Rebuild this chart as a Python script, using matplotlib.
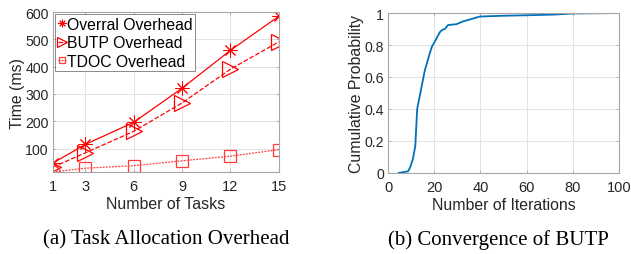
import matplotlib.pyplot as plt

plt.rcParams['font.family'] = ['Liberation Sans', 'DejaVu Sans']

# (a) task allocation overhead
tasks = [1, 3, 6, 9, 12, 15]
overall = [47, 115, 196, 321, 460, 585]
butp = [32, 84, 163, 267, 391, 491]
tdoc = [14, 28, 37, 55, 72, 96]

# (b) convergence of BUTP (CDF)
iters = [4.6, 8.7, 9.7, 10.8, 11.8, 12.6, 13.7, 15.9, 18.1, 19.0, 20.2, 22.4, 23.5,
         24.6, 26, 29.6, 32.5, 35, 39.7, 49.9, 60, 71.5, 80, 100]
cdf = [0.0, 0.01, 0.04, 0.09, 0.17, 0.40, 0.48, 0.64, 0.75, 0.79, 0.82, 0.88, 0.895,
       0.90, 0.925, 0.93, 0.948, 0.958, 0.978, 0.983, 0.986, 0.99, 0.997, 1.0]

spine_c = '#a6a6a6'
txt_c = '#262626'
red = '#ff0000'
asterisk = (8, 2, 0)


def _style(ax):
    ax.grid(True, color='#e3e3e3', linewidth=0.7)
    ax.set_axisbelow(True)
    for s in ax.spines.values():
        s.set_color(spine_c)
        s.set_linewidth(0.8)
    ax.tick_params(direction='in', length=2.5, width=0.6, colors=spine_c,
                   labelcolor=txt_c, labelsize=10.5, top=True, right=True)
    ax.tick_params(axis='x', pad=5)
    ax.tick_params(axis='y', pad=3, labelsize=10.2)


fig = plt.figure(figsize=(6.31, 2.55), dpi=100)

ax1 = fig.add_axes([0.084, 0.3216, 0.358, 0.627])
ax1.plot(tasks, overall, color=red, linewidth=0.9, marker=asterisk, markersize=10,
         markeredgewidth=0.7, label='Overral Overhead')
ax1.plot(tasks, butp, color=red, linewidth=0.9, linestyle='--', marker='>', markersize=12,
         markerfacecolor='none', markeredgewidth=0.9, label='BUTP Overhead')
ax1.plot(tasks, tdoc, color='#ff3b3b', linewidth=0.9, linestyle=(0, (1.5, 1)), marker='s',
         markersize=8, markerfacecolor='none', markeredgewidth=0.9, label='TDOC Overhead')
ax1.set_xlim(1, 15)
ax1.set_ylim(14, 600)
ax1.set_xticks(tasks)
ax1.set_yticks([100, 200, 300, 400, 500, 600])
_style(ax1)
ax1.set_xlabel('Number of Tasks', fontsize=11.4, color=txt_c, labelpad=2)
ax1.set_ylabel('Time (ms)', fontsize=11.4, color=txt_c, labelpad=0)
leg = ax1.legend(loc='upper left', fontsize=11.3, handlelength=0.5, handletextpad=0.1,
                 borderpad=0.15, labelspacing=0.22, borderaxespad=0.15, fancybox=False,
                 frameon=True, markerscale=0.55)
leg.get_frame().set_edgecolor('#555555')
leg.get_frame().set_linewidth(0.6)

ax2 = fig.add_axes([0.615, 0.318, 0.366, 0.627])
ax2.plot(iters, cdf, color='#0072bd', linewidth=1.3)
ax2.set_xlim(0, 100)
ax2.set_ylim(0, 1)
ax2.set_xticks([0, 20, 40, 60, 80, 100])
ax2.set_yticks([0, 0.2, 0.4, 0.6, 0.8, 1])
ax2.set_yticklabels(['0', '0.2', '0.4', '0.6', '0.8', '1'])
_style(ax2)
ax2.set_xlabel('Number of Iterations', fontsize=11.4, color=txt_c, labelpad=2)
ax2.set_ylabel('Cumulative Probability', fontsize=11.4, color=txt_c, labelpad=0)

fig.text(166 / 631, 1 - 240 / 255, '(a) Task Allocation Overhead', family='Liberation Serif',
         fontsize=15, ha='center', va='center')
fig.text(498 / 631, 1 - 240 / 255, '(b) Convergence of BUTP', family='Liberation Serif',
         fontsize=15, ha='center', va='center')

fig.savefig('out.png', dpi=100)
